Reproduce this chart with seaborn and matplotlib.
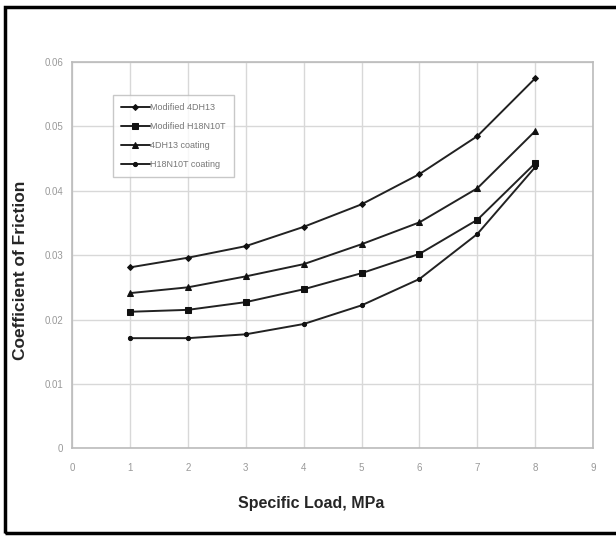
import pandas as pd
import matplotlib.pyplot as plt
import seaborn as sns
from matplotlib.patches import Rectangle

load = [1, 2, 3, 4, 5, 6, 7, 8]
mod_4dh13 = [0.0281, 0.0296, 0.0314, 0.0344, 0.0379, 0.0426, 0.0485, 0.0575]
mod_h18n10t = [0.0212, 0.0215, 0.0227, 0.0247, 0.0272, 0.0302, 0.0355, 0.0443]
coat_4dh13 = [0.0241, 0.0250, 0.0267, 0.0286, 0.0317, 0.0351, 0.0404, 0.0493]
coat_h18n10t = [0.0171, 0.0171, 0.0177, 0.0193, 0.0222, 0.0263, 0.0333, 0.0437]

series = {
    'Modified 4DH13': mod_4dh13,
    'Modified H18N10T': mod_h18n10t,
    '4DH13 coating': coat_4dh13,
    'H18N10T coating': coat_h18n10t,
}
markers = {'Modified 4DH13': 'D', 'Modified H18N10T': 's', '4DH13 coating': '^', 'H18N10T coating': 'o'}
msizes = {'Modified 4DH13': 3, 'Modified H18N10T': 5, '4DH13 coating': 4.5, 'H18N10T coating': 3}

sns.set_style('white')
plt.rcParams['font.family'] = ['Liberation Sans', 'DejaVu Sans']

fig = plt.figure(figsize=(6.16, 5.4), dpi=100)
ax = fig.add_axes([0.117, 0.170, 0.846, 0.715])

for name, vals in series.items():
    df = pd.DataFrame({'load': load, 'cof': vals})
    sns.lineplot(data=df, x='load', y='cof', ax=ax, color='#222222', linewidth=1.4,
                 marker=markers[name], markersize=msizes[name], markeredgecolor='#111111',
                 markerfacecolor='#111111', label=name)

ax.set_xlim(0, 9)
ax.set_ylim(0, 0.06)
ax.set_xticks(range(0, 10))
ax.set_yticks([0, 0.01, 0.02, 0.03, 0.04, 0.05, 0.06])
ax.set_yticklabels(['0', '0.01', '0.02', '0.03', '0.04', '0.05', '0.06'])
ax.grid(True, color='#d8d8d8', linewidth=1.0)
for s in ax.spines.values():
    s.set_color('#bbbbbb')
    s.set_linewidth(1.2)
ax.tick_params(axis='both', colors='#999999', labelsize=7, length=3, width=1)
ax.tick_params(axis='x', pad=8)

ax.set_xlabel('Specific Load, MPa', fontsize=11.5, fontweight='bold')
ax.xaxis.set_label_coords(0.459, -0.125)
ax.set_ylabel('Coefficient of Friction', fontsize=12.5, fontweight='bold')
ax.yaxis.set_label_coords(-0.085, 0.461)

leg = ax.legend(loc='upper left', bbox_to_anchor=(0.069, 0.927), fontsize=6.5,
                frameon=True, fancybox=False, handlelength=3.2, handletextpad=0.1,
                labelspacing=1.1, borderpad=0.9, labelcolor='#777777')
leg.get_frame().set_edgecolor('#bbbbbb')
leg.get_frame().set_linewidth(1.0)

fig.patches.append(Rectangle((0.008, 0.013), 1.2, 0.974, transform=fig.transFigure,
                             fill=False, edgecolor='black', linewidth=2.5))

fig.savefig('out.png', dpi=100)
